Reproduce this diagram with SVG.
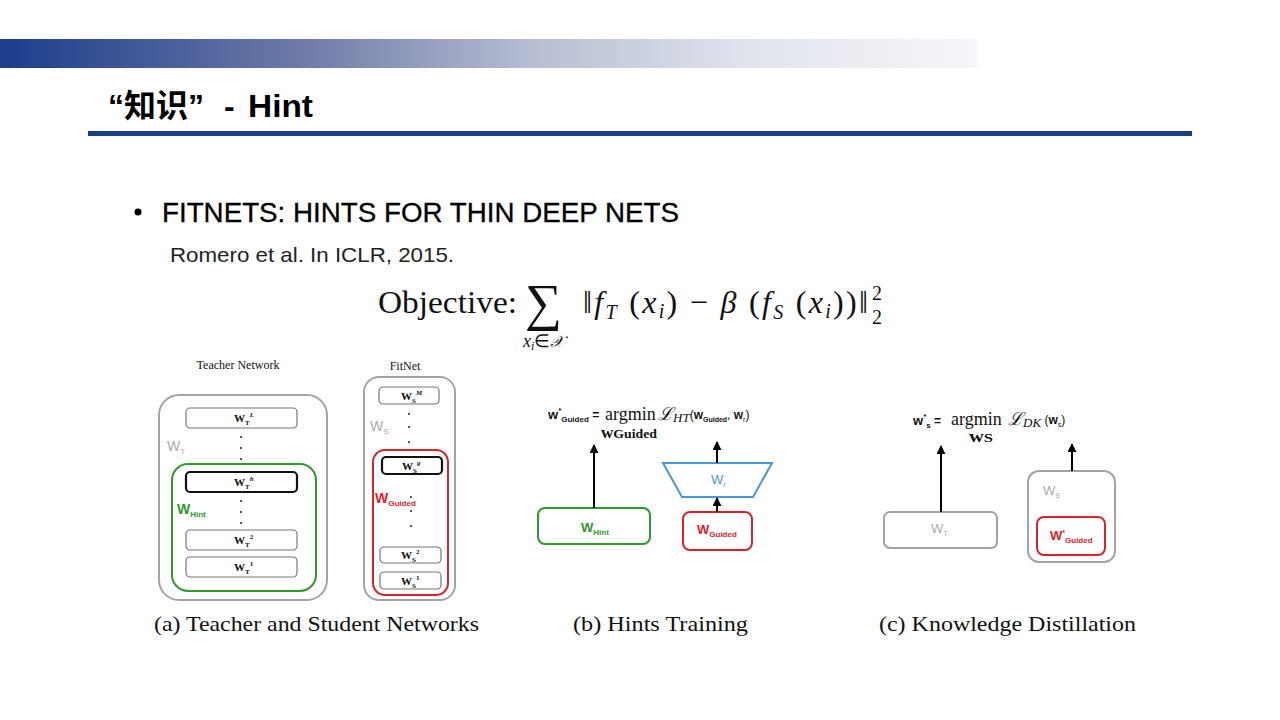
<svg xmlns="http://www.w3.org/2000/svg" width="1280" height="720" viewBox="0 0 1280 720">
<defs>
<linearGradient id="hdr" x1="0" y1="0" x2="1" y2="0">
<stop offset="0" stop-color="#1b3d8c"/>
<stop offset="0.3" stop-color="#6b78a6"/>
<stop offset="0.55" stop-color="#b8bfd4"/>
<stop offset="0.78" stop-color="#e3e6ee"/>
<stop offset="1" stop-color="#f5f6f9"/>
</linearGradient>
<marker id="ah" viewBox="0 0 10 10" refX="9" refY="5" markerWidth="9" markerHeight="9" markerUnits="userSpaceOnUse" orient="auto">
<path d="M0,0 L10,5 L0,10 z" fill="#000"/>
</marker>
<style>
.serif{font-family:"Liberation Serif","Times New Roman",serif;fill:#111}
.sans{font-family:"Liberation Sans",Arial,sans-serif}
.title{font-family:"Liberation Sans","Noto Sans CJK SC",sans-serif;font-weight:bold;font-size:32px;fill:#000}
.box{fill:#fff;stroke:#777;stroke-width:1.2}
.boxk{fill:#fff;stroke:#111;stroke-width:2.2}
.outer{fill:#fff;stroke:#a3a3a3;stroke-width:2}
.bl{font-family:"Liberation Serif",serif;font-weight:bold;font-size:11px;fill:#111}
.dot{fill:#222}
.conn{stroke:#000;stroke-width:2;fill:none;marker-end:url(#ah)}
.cap{font-family:"Liberation Serif","Times New Roman",serif;font-size:22px;fill:#111}
</style>
</defs>

<rect x="0" y="39" width="977" height="29" fill="url(#hdr)"/>
<text x="108" y="117" class="title">“知识”</text>
<text x="224" y="117" class="title">-</text>
<text x="248" y="117" class="title" textLength="65" lengthAdjust="spacingAndGlyphs">Hint</text>
<rect x="88" y="131" width="1104" height="5" fill="#183f88"/>

<circle cx="138" cy="212" r="3.5" fill="#000"/>
<text x="162" y="222" class="sans" style="font-size:27px;fill:#000;stroke:#000;stroke-width:0.3" textLength="517" lengthAdjust="spacingAndGlyphs">FITNETS: HINTS FOR THIN DEEP NETS</text>
<text x="170" y="262" class="sans" style="font-size:21px;fill:#222" textLength="284" lengthAdjust="spacingAndGlyphs">Romero et al. In ICLR, 2015.</text>

<g id="objective">
<text x="378" y="313" class="serif" style="font-size:31px" textLength="139" lengthAdjust="spacingAndGlyphs">Objective:</text>
<text x="525" y="320" class="serif" style="font-size:52px">∑</text>
<text x="523" y="347" class="serif" style="font-size:18px"><tspan font-style="italic">x</tspan><tspan font-size="12" dy="3" font-style="italic">i</tspan><tspan dy="-3">∈</tspan><tspan font-style="italic" font-family="DejaVu Serif" font-size="16">𝒳</tspan></text>
<text x="583" y="313" class="serif" style="font-size:32px" textLength="285" lengthAdjust="spacing">‖<tspan font-style="italic">f</tspan><tspan font-size="20" dy="6" font-style="italic">T</tspan><tspan dy="-6"> (</tspan><tspan font-style="italic">x</tspan><tspan font-size="20" dy="5" font-style="italic">i</tspan><tspan dy="-5">) − </tspan><tspan font-style="italic">β</tspan><tspan> (</tspan><tspan font-style="italic">f</tspan><tspan font-size="20" dy="6" font-style="italic">S</tspan><tspan dy="-6"> (</tspan><tspan font-style="italic">x</tspan><tspan font-size="20" dy="5" font-style="italic">i</tspan><tspan dy="-5">))‖</tspan></text>
<text x="872" y="300" class="serif" style="font-size:20px">2</text>
<text x="872" y="324" class="serif" style="font-size:20px">2</text>
</g>

<!-- (a) Teacher -->
<g id="teacher">
<text x="238" y="369" class="serif" style="font-size:12px" text-anchor="middle">Teacher Network</text>
<rect x="159" y="395" width="168" height="205" rx="20" class="outer"/>
<text x="167" y="451" class="sans" style="font-size:14px;fill:#aaa">W<tspan font-size="8" dy="3">T</tspan></text>
<rect x="172" y="464" width="144" height="127" rx="16" style="fill:none;stroke:#2e9a2e;stroke-width:2"/>
<text x="177" y="514" class="sans" style="font-size:14px;fill:#2e9a2e;font-weight:bold">W<tspan font-size="8" dy="3">Hint</tspan></text>
</g>
<g id="wt-L"><rect x="186" y="408" width="111" height="20" rx="4" class="box"/><text x="234" y="422" class="bl">W<tspan font-size="7" dy="3">T</tspan><tspan font-size="7" dy="-8" font-style="italic">L</tspan></text></g>
<g id="wt-dots1"><circle cx="241" cy="437" r="1" class="dot"/><circle cx="241" cy="448" r="1" class="dot"/><circle cx="241" cy="459" r="1" class="dot"/></g>
<g id="wt-h"><rect x="186" y="472" width="111" height="20" rx="4" class="boxk"/><text x="234" y="486" class="bl">W<tspan font-size="7" dy="3">T</tspan><tspan font-size="7" dy="-8" font-style="italic">h</tspan></text></g>
<g id="wt-dots2"><circle cx="241" cy="501" r="1" class="dot"/><circle cx="241" cy="512" r="1" class="dot"/><circle cx="241" cy="523" r="1" class="dot"/></g>
<g id="wt-2"><rect x="186" y="530" width="111" height="20" rx="4" class="box"/><text x="234" y="544" class="bl">W<tspan font-size="7" dy="3">T</tspan><tspan font-size="7" dy="-8">2</tspan></text></g>
<g id="wt-1"><rect x="186" y="557" width="111" height="20" rx="4" class="box"/><text x="234" y="571" class="bl">W<tspan font-size="7" dy="3">T</tspan><tspan font-size="7" dy="-8">1</tspan></text></g>

<!-- FitNet -->
<g id="fitnet">
<text x="405" y="370" class="serif" style="font-size:12px" text-anchor="middle">FitNet</text>
<rect x="364" y="377" width="91" height="223" rx="15" class="outer"/>
<text x="370" y="431" class="sans" style="font-size:14px;fill:#aaa">W<tspan font-size="8" dy="3">S</tspan></text>
<rect x="373" y="450" width="75" height="145" rx="12" style="fill:none;stroke:#d9232b;stroke-width:2"/>
<text x="375" y="503" class="sans" style="font-size:14px;fill:#d9232b;font-weight:bold">W<tspan font-size="8" dy="3">Guided</tspan></text>
</g>
<g id="ws-M"><rect x="379" y="387" width="60" height="17" rx="4" class="box"/><text x="401" y="400" class="bl">W<tspan font-size="7" dy="3">S</tspan><tspan font-size="7" dy="-8" font-style="italic">M</tspan></text></g>
<g id="ws-dots1"><circle cx="409" cy="414" r="1" class="dot"/><circle cx="409" cy="427" r="1" class="dot"/><circle cx="409" cy="442" r="1" class="dot"/></g>
<g id="ws-g"><rect x="382" y="457" width="60" height="17" rx="4" class="boxk"/><text x="402" y="470" class="bl">W<tspan font-size="7" dy="3">S</tspan><tspan font-size="7" dy="-8" font-style="italic">g</tspan></text></g>
<g id="ws-dots2"><circle cx="411" cy="497" r="1" class="dot"/><circle cx="411" cy="511" r="1" class="dot"/><circle cx="411" cy="526" r="1" class="dot"/></g>
<g id="ws-2"><rect x="380" y="547" width="61" height="16" rx="4" class="box"/><text x="401" y="559" class="bl">W<tspan font-size="7" dy="3">S</tspan><tspan font-size="7" dy="-8">2</tspan></text></g>
<g id="ws-1"><rect x="380" y="572" width="61" height="17" rx="4" class="box"/><text x="401" y="585" class="bl">W<tspan font-size="7" dy="3">S</tspan><tspan font-size="7" dy="-8">1</tspan></text></g>

<!-- (b) Hints training -->
<g id="formula-b">
<text x="548" y="419" class="sans" style="font-size:13px;font-weight:bold;fill:#111">w<tspan font-size="8" dy="-6">*</tspan><tspan font-size="8" dy="9">Guided</tspan><tspan dy="-3" font-size="12"> =</tspan></text>
<text x="605" y="420" class="serif" style="font-size:18px">argmin</text>
<text x="601" y="438" class="serif" style="font-size:16px;font-weight:bold" textLength="56" lengthAdjust="spacingAndGlyphs">w<tspan font-size="13">Guided</tspan></text>
<text x="658" y="420" class="serif" style="font-size:18px"><tspan font-family="DejaVu Serif" font-style="italic">ℒ</tspan><tspan font-style="italic" font-size="13" dy="2">HT</tspan><tspan class="sans" font-size="12" dy="-3">(</tspan><tspan font-family="Liberation Sans" font-size="12" font-weight="bold">w</tspan><tspan font-family="Liberation Sans" font-size="7" dy="3" font-weight="bold">Guided</tspan><tspan font-family="Liberation Sans" font-size="12" dy="-3">, </tspan><tspan font-family="Liberation Sans" font-size="12" font-weight="bold">w</tspan><tspan font-family="Liberation Sans" font-size="7" dy="3">r</tspan><tspan font-family="Liberation Sans" font-size="12" dy="-3">)</tspan></text>
</g>
<g id="w-hint"><rect x="538" y="508" width="112" height="36" rx="7" style="fill:#fff;stroke:#2e9a2e;stroke-width:2"/><text x="581" y="532" class="sans" style="font-size:13px;font-weight:bold;fill:#2e9a2e">W<tspan font-size="8" dy="3">Hint</tspan></text></g>
<g id="w-r"><path d="M663,463 L772,463 L753,497 L682,497 Z" style="fill:#fff;stroke:#4a97d6;stroke-width:2"/><text x="711" y="484" class="sans" style="font-size:13px;fill:#4a97d6">W<tspan font-size="7" dy="3">r</tspan></text></g>
<g id="w-guided"><rect x="683" y="512" width="69" height="38" rx="7" style="fill:#fff;stroke:#d9232b;stroke-width:2"/><text x="697" y="534" class="sans" style="font-size:13px;font-weight:bold;fill:#d9232b">W<tspan font-size="8" dy="3">Guided</tspan></text></g>

<!-- (c) Knowledge distillation -->
<g id="formula-c">
<text x="913" y="425" class="sans" style="font-size:13px;font-weight:bold;fill:#111">w<tspan font-size="8" dy="-6">*</tspan><tspan font-size="8" dy="9">s</tspan><tspan dy="-3" font-size="12"> =</tspan></text>
<text x="951" y="425" class="serif" style="font-size:18px">argmin</text>
<text x="969" y="442" class="serif" style="font-size:16px;font-weight:bold" textLength="24" lengthAdjust="spacingAndGlyphs">w<tspan font-size="13">S</tspan></text>
<text x="1008" y="425" class="serif" style="font-size:18px"><tspan font-family="DejaVu Serif" font-style="italic">ℒ</tspan><tspan font-style="italic" font-size="13" dy="2">DK</tspan><tspan font-family="Liberation Sans" font-size="12" dy="-3"> (</tspan><tspan font-family="Liberation Sans" font-size="12" font-weight="bold">w</tspan><tspan font-family="Liberation Sans" font-size="7" dy="3">s</tspan><tspan font-family="Liberation Sans" font-size="12" dy="-3">)</tspan></text>
</g>
<g id="w-t"><rect x="884" y="512" width="113" height="36" rx="6" style="fill:#fff;stroke:#a3a3a3;stroke-width:2"/><text x="931" y="533" class="sans" style="font-size:13px;fill:#aaa">W<tspan font-size="7" dy="3">T</tspan></text></g>
<g id="w-s"><rect x="1028" y="471" width="87" height="91" rx="11" style="fill:#fff;stroke:#a3a3a3;stroke-width:2"/><text x="1043" y="495" class="sans" style="font-size:13px;fill:#aaa">W<tspan font-size="7" dy="3">S</tspan></text>
<rect x="1037" y="517" width="68" height="38" rx="7" style="fill:#fff;stroke:#d9232b;stroke-width:2"/><text x="1050" y="540" class="sans" style="font-size:13px;font-weight:bold;fill:#d9232b">W<tspan font-size="7" dy="-5">*</tspan><tspan font-size="8" dy="8">Guided</tspan></text></g>

<g id="connectors">
<line x1="594" y1="508" x2="594" y2="445" class="conn"/>
<line x1="717" y1="512" x2="717" y2="498" class="conn"/>
<line x1="717" y1="463" x2="717" y2="442" class="conn"/>
<line x1="941" y1="512" x2="941" y2="446" class="conn"/>
<line x1="1072" y1="471" x2="1072" y2="444" class="conn"/>
</g>

<text x="154" y="631" class="cap" textLength="325" lengthAdjust="spacingAndGlyphs">(a)  Teacher and Student Networks</text>
<text x="573" y="631" class="cap" textLength="175" lengthAdjust="spacingAndGlyphs">(b)  Hints Training</text>
<text x="879" y="631" class="cap" textLength="257" lengthAdjust="spacingAndGlyphs">(c)  Knowledge Distillation</text>
</svg>
